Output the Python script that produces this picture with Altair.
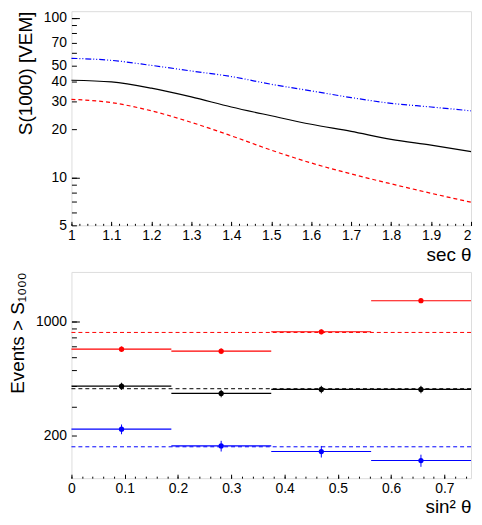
import altair as alt
import pandas as pd

FONT = "Liberation Sans"

# ---------------- top panel data ----------------
sec_theta = [1.0, 1.1, 1.2, 1.3, 1.4, 1.5, 1.6, 1.7, 1.8, 1.9, 2.0]
s1000_blue = [55.7, 54.1, 50.3, 46.4, 42.8, 38.3, 34.8, 31.6, 29.1, 27.6, 26.1]
s1000_black = [40.6, 39.6, 36.2, 31.9, 27.6, 24.3, 21.5, 19.4, 17.3, 15.9, 14.5]
s1000_red = [30.8, 29.4, 26.1, 22.1, 18.2, 14.8, 12.3, 10.5, 9.1, 7.94, 6.98]

# ---------------- bottom panel data ----------------
groups = ["red", "black", "blue"]
bin_lo = [0.0, 0.1875, 0.375, 0.5625]
bin_hi = [0.1875, 0.375, 0.5625, 0.75]
bin_center = [0.094, 0.281, 0.469, 0.656]
events_red = [675, 656, 862, 1334]
events_black = [401, 362, 383, 383]
events_blue = [219, 173, 160, 141]
err_red = [26, 26, 29, 37]
err_black = [20, 19, 20, 20]
err_blue = [15, 13, 13, 12]
expected = [854, 387, 171]

# tick labels
top_y_labels = [5, 10, 20, 30, 40, 50, 70, 100]
top_y_ticks = [5, 6, 7, 8, 9, 10, 20, 30, 40, 50, 60, 70, 80, 90, 100]
top_y_major = [10, 100]
top_x_labels = [1, 1.1, 1.2, 1.3, 1.4, 1.5, 1.6, 1.7, 1.8, 1.9, 2]
top_x_minor = [round(1 + 0.02 * i, 2) for i in range(51)]
bot_y_labels = [200, 1000]
bot_y_ticks = [200, 300, 400, 500, 600, 700, 800, 900, 1000]
bot_y_major = [1000]
bot_x_labels = [0, 0.1, 0.2, 0.3, 0.4, 0.5, 0.6, 0.7]
bot_x_minor = [round(0.02 * i, 2) for i in range(38)]

colors = ["#ff0000", "#000000", "#0000ff"]

# ---------------- tables ----------------
top_df = pd.DataFrame({
    "sec": sec_theta,
    "blue": s1000_blue,
    "black": s1000_black,
    "red": s1000_red,
})

rows = []
for g, ev, er in zip(groups, [events_red, events_black, events_blue], [err_red, err_black, err_blue]):
    for lo, hi, c, e, d in zip(bin_lo, bin_hi, bin_center, ev, er):
        rows.append({"group": g, "lo": lo, "hi": hi, "center": c, "events": e,
                     "elo": e - d, "ehi": e + d})
bins_df = pd.DataFrame(rows)
exp_df = pd.DataFrame({"group": groups, "expected": expected})

color_enc = alt.Color("group:N", scale=alt.Scale(domain=groups, range=colors), legend=None)

common_axis = dict(domain=False, grid=False, tickColor="black", labelColor="black",
                   titleColor="black", labelFont=FONT, titleFont=FONT, labelFontSize=14,
                   titleFontSize=19, titleFontWeight="normal")


def minor_axis(orient, values, size):
    return alt.Axis(orient=orient, values=values, tickSize=size, offset=-size, labels=False,
                    title=None, domain=False, grid=False, tickColor="black")


W = 403

# ---------------- top chart ----------------
y_top = alt.Scale(type="log", domain=[5, 110], nice=False)
x_top = alt.Scale(domain=[1, 2], nice=False, zero=False)

top_y_axis = alt.Axis(orient="left", values=top_y_ticks, tickSize=5, offset=-5, labelPadding=5,
                      format="~g", labelOverlap=False,
                      labelExpr=f"indexof({top_y_labels}, datum.value) >= 0 ? datum.label : ''",
                      title="S(1000) [VEM]", titleAnchor="end", titlePadding=8, **common_axis)
top_x_axis = alt.Axis(orient="bottom", values=top_x_labels, tickSize=4, offset=-4, labelPadding=3,
                      format="~g", labelFlush=False, labelOverlap=False,
                      labelAlign={"condition": {"test": "datum.value == 2", "value": "right"},
                                  "value": "center"},
                      title="sec θ", titleAnchor="end", titlePadding=3, **common_axis)

line_black = alt.Chart(top_df).mark_line(color="black", strokeWidth=1.2, interpolate="monotone").encode(
    x=alt.X("sec:Q", scale=x_top, axis=top_x_axis),
    y=alt.Y("black:Q", scale=y_top, axis=top_y_axis),
)
line_blue = alt.Chart(top_df).mark_line(color="#0000ff", strokeWidth=1.2, strokeDash=[6, 2, 1, 2, 1, 2],
                                        interpolate="monotone").encode(
    x=alt.X("sec:Q", scale=x_top, axis=minor_axis("bottom", top_x_minor, 2)),
    y=alt.Y("blue:Q", scale=y_top, axis=minor_axis("left", top_y_major, 8)),
)
line_red = alt.Chart(top_df).mark_line(color="#ff0000", strokeWidth=1.2, strokeDash=[4, 3],
                                       interpolate="monotone").encode(
    x=alt.X("sec:Q", scale=x_top, axis=None),
    y=alt.Y("red:Q", scale=y_top, axis=None),
)

top = alt.layer(line_black, line_blue, line_red).resolve_axis(
    x="independent", y="independent").properties(width=W, height=216)

# ---------------- bottom chart ----------------
y_bot = alt.Scale(type="log", domain=[110, 2000], nice=False)
x_bot = alt.Scale(domain=[0, 0.75], nice=False, zero=False)

bot_y_axis = alt.Axis(orient="left", values=bot_y_ticks, tickSize=5, offset=-5, labelPadding=5,
                      format="~g", labelOverlap=False,
                      labelExpr=f"indexof({bot_y_labels}, datum.value) >= 0 ? datum.label : ''",
                      title="Events > S₁₀₀₀", titleAnchor="end", titlePadding=8, **common_axis)
bot_x_axis = alt.Axis(orient="bottom", values=bot_x_labels, tickSize=4, offset=-4, labelPadding=3,
                      format="~g", labelFlush=False, labelOverlap=False,
                      title="sin² θ", titleAnchor="end", titlePadding=3, **common_axis)

exp_lines = alt.Chart(exp_df).mark_rule(strokeDash=[4, 3], strokeWidth=1).encode(
    y=alt.Y("expected:Q", scale=y_bot, axis=bot_y_axis),
    color=color_enc,
)
bin_lines = alt.Chart(bins_df).mark_rule(strokeWidth=1.2).encode(
    x=alt.X("lo:Q", scale=x_bot, axis=bot_x_axis),
    x2="hi:Q",
    y=alt.Y("events:Q", scale=y_bot, axis=minor_axis("left", bot_y_major, 8)),
    color=color_enc,
)
err_bars = alt.Chart(bins_df).mark_rule(strokeWidth=1).encode(
    x=alt.X("center:Q", scale=x_bot, axis=minor_axis("bottom", bot_x_minor, 2)),
    y=alt.Y("elo:Q", scale=y_bot, axis=None),
    y2="ehi:Q",
    color=color_enc,
)
points = alt.Chart(bins_df).mark_circle(size=28, opacity=1).encode(
    x=alt.X("center:Q", scale=x_bot, axis=None),
    y=alt.Y("events:Q", scale=y_bot, axis=None),
    color=color_enc,
)

bottom = alt.layer(exp_lines, bin_lines, err_bars, points).resolve_axis(
    x="independent", y="independent").properties(width=W, height=208)

chart = alt.vconcat(top, bottom, spacing=6).properties(
    padding={"left": 0, "top": 0, "right": 0, "bottom": 0}
).configure_view(stroke="black", strokeWidth=1).configure(font=FONT, background="white")

chart.save("out.html", embed_options={"renderer": "svg", "actions": False})
